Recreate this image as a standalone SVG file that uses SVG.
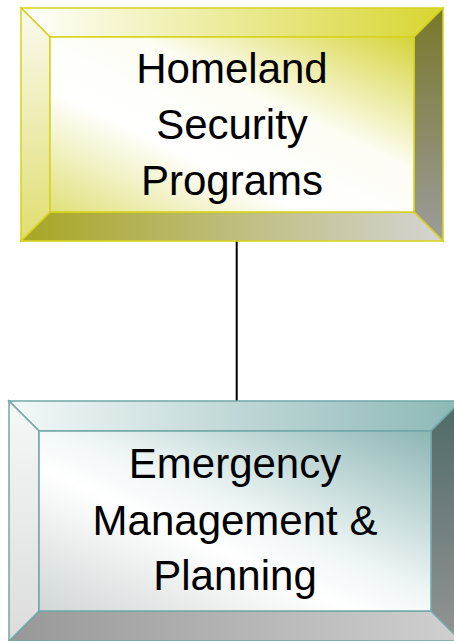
<svg xmlns="http://www.w3.org/2000/svg" width="454" height="641" viewBox="0 0 454 641">
<style>
.lbl{font-family:"Liberation Sans",Arial,sans-serif;font-size:42px;fill:#000;text-anchor:middle}
.ys{stroke:#d6d21a;stroke-width:1.5;stroke-linejoin:miter}
.ts{stroke:#6fa8a6;stroke-width:1.5;stroke-linejoin:miter}
</style>
<defs>
<linearGradient id="yFace" x1="0" y1="1" x2="1" y2="0">
<stop offset="0" stop-color="#e0e07a"/>
<stop offset="0.35" stop-color="#ffffff"/>
<stop offset="0.62" stop-color="#fdfdf4"/>
<stop offset="1" stop-color="#d6d43a"/>
</linearGradient>
<linearGradient id="yTop" x1="0" y1="0" x2="1" y2="0">
<stop offset="0" stop-color="#ffffff"/>
<stop offset="1" stop-color="#d8d630"/>
</linearGradient>
<linearGradient id="yRight" x1="0" y1="0" x2="0" y2="1">
<stop offset="0" stop-color="#78782a"/>
<stop offset="1" stop-color="#9c9c9c"/>
</linearGradient>
<linearGradient id="yBottom" x1="0" y1="0" x2="1" y2="0">
<stop offset="0" stop-color="#a8a624"/>
<stop offset="1" stop-color="#d4d4d4"/>
</linearGradient>
<linearGradient id="yLeft" x1="0" y1="0" x2="0" y2="1">
<stop offset="0" stop-color="#fafaf0"/>
<stop offset="1" stop-color="#e0de70"/>
</linearGradient>
<linearGradient id="tFace" x1="0" y1="1" x2="1" y2="0">
<stop offset="0" stop-color="#d2d6d6"/>
<stop offset="0.4" stop-color="#ffffff"/>
<stop offset="0.55" stop-color="#eef5f5"/>
<stop offset="1" stop-color="#8cb6b4"/>
</linearGradient>
<linearGradient id="tTop" x1="0" y1="0" x2="1" y2="0">
<stop offset="0" stop-color="#f4f8f8"/>
<stop offset="1" stop-color="#8cb8b6"/>
</linearGradient>
<linearGradient id="tRight" x1="0" y1="0" x2="0" y2="1">
<stop offset="0" stop-color="#4e6a68"/>
<stop offset="1" stop-color="#949494"/>
</linearGradient>
<linearGradient id="tBottom" x1="0" y1="0" x2="1" y2="0">
<stop offset="0" stop-color="#989898"/>
<stop offset="1" stop-color="#d0d0d0"/>
</linearGradient>
<linearGradient id="tLeft" x1="0" y1="0" x2="0" y2="1">
<stop offset="0" stop-color="#f6f8f8"/>
<stop offset="1" stop-color="#dcdcdc"/>
</linearGradient>
</defs>
<g id="connectors">
<line x1="236.7" y1="241" x2="236.7" y2="404" stroke="#000" stroke-width="2"/>
</g>
<g id="node-homeland">
<polygon class="ys" points="21,8 443,8 414,37 50,37" fill="url(#yTop)"/>
<polygon class="ys" points="443,8 443,241 414,212 414,37" fill="url(#yRight)"/>
<polygon class="ys" points="21,241 443,241 414,212 50,212" fill="url(#yBottom)"/>
<polygon class="ys" points="21,8 50,37 50,212 21,241" fill="url(#yLeft)"/>
<rect class="ys" x="50" y="37" width="364" height="175" fill="url(#yFace)"/>
<text class="lbl" x="232" y="83">Homeland</text>
<text class="lbl" x="232" y="139">Security</text>
<text class="lbl" x="232" y="195">Programs</text>
</g>
<g id="node-emergency">
<polygon class="ts" points="9,401 461,401 431,431 39,431" fill="url(#tTop)"/>
<polygon class="ts" points="461,401 461,641 431,611 431,431" fill="url(#tRight)"/>
<polygon class="ts" points="9,641 461,641 431,611 39,611" fill="url(#tBottom)"/>
<polygon class="ts" points="9,401 39,431 39,611 9,641" fill="url(#tLeft)"/>
<rect class="ts" x="39" y="431" width="392" height="180" fill="url(#tFace)"/>
<text class="lbl" x="235" y="478">Emergency</text>
<text class="lbl" x="235" y="535">Management &amp;</text>
<text class="lbl" x="235" y="590">Planning</text>
</g>
</svg>
